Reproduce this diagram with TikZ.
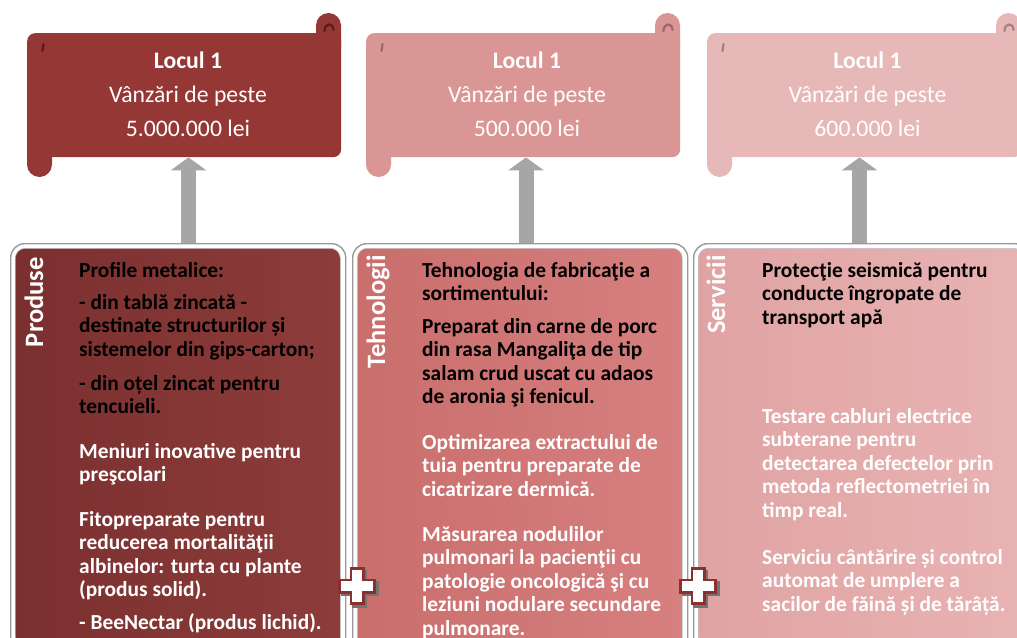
\documentclass[tikz,border=0pt]{standalone}
\usepackage{fontspec}
\setmainfont{Carlito}
\usetikzlibrary{arrows.meta}
\definecolor{scrA}{HTML}{953735}
\definecolor{scrB}{HTML}{D99694}
\definecolor{scrC}{HTML}{E6B9B8}
\definecolor{boxA}{HTML}{8D3C3A}
\definecolor{boxAd}{HTML}{7A302F}
\definecolor{boxB}{HTML}{D6807F}
\definecolor{boxBd}{HTML}{C96E6D}
\definecolor{boxC}{HTML}{E9B3B3}
\definecolor{boxCd}{HTML}{E0A3A3}
\definecolor{arrowgray}{HTML}{A6A6A6}
\definecolor{crossred}{HTML}{8E2F2F}
\tikzset{
  bodytext/.style={anchor=base west, inner sep=0pt, font=\bfseries\fontsize{21.4}{23.6}\selectfont},
  sidelabel/.style={rotate=90, anchor=base east, inner sep=0pt, text=white, font=\bfseries\fontsize{26.5}{30}\selectfont},
  scrolltext/.style={anchor=base, inner sep=0pt, text=white, font=\fontsize{23.7}{34}\selectfont},
  scrollbold/.style={scrolltext, font=\bfseries\fontsize{23.7}{34}\selectfont},
  scrollbody/.style={anchor=north west, inner sep=0pt, minimum width=314pt, minimum height=124pt, rounded corners=8pt},
  scrolltab/.style={rounded corners=12.5pt},
  curlmark/.style={line width=2.2pt, line cap=round},
  frame/.style={anchor=north west, inner sep=0pt, minimum width=335pt, minimum height=420pt, rounded corners=14pt, fill=white, draw=black!40, line width=1.4pt},
  panel/.style={anchor=north west, inner sep=0pt, minimum width=325pt, minimum height=420pt, rounded corners=10pt, draw=black!25, line width=0.6pt},
  bigarrow/.style={draw=arrowgray, line width=15pt, -{Triangle[length=13pt,width=35pt]}},
  plusmark/.pic={
    \fill[black!55] (-5,-16.5) rectangle (10,21.5);
    \fill[black!55] (-16.5,-5) rectangle (21.5,10);
    \fill[crossred] (-7.5,-19) rectangle (7.5,19);
    \fill[crossred] (-19,-7.5) rectangle (19,7.5);
    \fill[white] (-5,-16) rectangle (5,16);
    \fill[white] (-16,-5) rectangle (16,5);
  }
}
\newcommand\txtlines[5]{%
  \foreach \ln [count=\k] in {#5}
    \node[bodytext, text=#4] (#1-\k) at (#2, {#3+(\k-1)*23.6}) {\ln};}
\begin{document}
\begin{tikzpicture}[x=1pt, y=-1pt]
\useasboundingbox (0,0) rectangle (1017,637);
\clip (0,0) rectangle (1017,637);
\fill[white] (0,0) rectangle (1017,637);

% scrolls
\node[scrollbody, fill=scrA] (s1) at (27,33) {};
\fill[scrA, scrolltab] (316,13) rectangle (341,60);
\fill[scrA, scrolltab] (27,130) rectangle (52,177);
\draw[curlmark, scrA!55!black] (43.5,44) -- (42.5,51);
\draw[curlmark, scrA!55!black] (324.5,31) .. controls (324.5,22.5) and (333.5,22.5) .. (333.5,30);

\node[scrollbody, fill=scrB] (s2) at (366,33) {};
\fill[scrB, scrolltab] (655,13) rectangle (680,60);
\fill[scrB, scrolltab] (366,130) rectangle (391,177);
\draw[curlmark, scrB!70!black] (382.5,44) -- (381.5,51);
\draw[curlmark, scrB!70!black] (663.5,31) .. controls (663.5,22.5) and (672.5,22.5) .. (672.5,30);

\node[scrollbody, fill=scrC] (s3) at (707,33) {};
\fill[scrC, scrolltab] (996,13) rectangle (1021,60);
\fill[scrC, scrolltab] (707,130) rectangle (732,177);
\draw[curlmark, scrC!70!black] (723.5,44) -- (722.5,51);
\draw[curlmark, scrC!70!black] (1004.5,31) .. controls (1004.5,22.5) and (1013.5,22.5) .. (1013.5,30);

\node[scrollbold] (s1t1) at (188,68) {Locul 1};
\node[scrolltext] (s1t2) at (188,102) {Vânzări de peste};
\node[scrolltext] (s1t3) at (188,136) {5.000.000 lei};
\node[scrollbold] (s2t1) at (527,68) {Locul 1};
\node[scrolltext] (s2t2) at (527,102) {Vânzări de peste};
\node[scrolltext] (s2t3) at (527,136) {500.000 lei};
\node[scrollbold] (s3t1) at (867.5,68) {Locul 1};
\node[scrolltext] (s3t2) at (867.5,102) {Vânzări de peste};
\node[scrolltext] (s3t3) at (867.5,136) {600.000 lei};

% boxes
\node[frame] (b1) at (10,243) {};
\node[panel, left color=boxAd, right color=boxA] (p1) at (15,248) {};
\node[frame] (b2) at (352,243) {};
\node[panel, left color=boxBd, right color=boxB] (p2) at (357,248) {};
\node[frame] (b3) at (693,243) {};
\node[panel, left color=boxCd, right color=boxC] (p3) at (698,248) {};

% arrows
\coordinate (ax1) at (188.5,0);
\coordinate (ax2) at (526,0);
\coordinate (ax3) at (859.5,0);
\draw[bigarrow] (b1.north -| ax1) -- (s1.south -| ax1);
\draw[bigarrow] (b2.north -| ax2) -- (s2.south -| ax2);
\draw[bigarrow] (b3.north -| ax3) -- (s3.south -| ax3);

% side labels
\node[sidelabel] (l1) at (43,257) {Produse};
\node[sidelabel] (l2) at (385,255) {Tehnologii};
\node[sidelabel] (l3) at (725,255) {Servicii};

% texts box 1
\txtlines{t1a}{79}{277}{black}{Profile metalice:}
\txtlines{t1b}{79}{309}{black}{- din tablă zincată -, destinate structurilor și, sistemelor din gips-carton;}
\txtlines{t1c}{79}{390}{black}{- din oțel zincat pentru, tencuieli.}
\txtlines{t1d}{79}{458}{white}{Meniuri inovative pentru, preşcolari}
\txtlines{t1e}{79}{526}{white}{Fitopreparate pentru, reducerea mortalităţii, albinelor:  turta cu plante, {(produs solid).}}
\txtlines{t1f}{79}{629}{white}{{- BeeNectar (produs lichid).}}

% texts box 2
\txtlines{t2a}{422}{277}{black}{Tehnologia de fabricaţie a, sortimentului:}
\txtlines{t2b}{422}{333}{black}{Preparat din carne de porc, din rasa Mangaliţa de tip, salam crud uscat cu adaos, de aronia şi fenicul.}
\txtlines{t2c}{422}{449}{white}{Optimizarea extractului de, tuia pentru preparate de, cicatrizare dermică.}
\txtlines{t2d}{422}{541}{white}{Măsurarea nodulilor, pulmonari la  pacienţii cu, patologie oncologică şi cu, leziuni nodulare secundare, pulmonare.}

% texts box 3
\txtlines{t3a}{762}{277}{black}{Protecţie seismică pentru, conducte îngropate de, transport  apă}
\txtlines{t3b}{762}{423}{white}{Testare cabluri electrice, subterane pentru, detectarea defectelor prin, metoda reflectometriei în, timp real.}
\txtlines{t3c}{762}{564}{white}{Serviciu cântărire și control, automat de umplere a, sacilor de făină și de tărâță.}

% plus marks
\pic at (357,586) {plusmark};
\pic at (698,586) {plusmark};
\end{tikzpicture}
\end{document}
